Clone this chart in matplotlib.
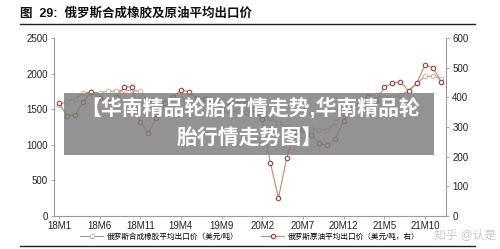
import matplotlib.pyplot as plt
from matplotlib.patches import Rectangle
from matplotlib.lines import Line2D

plt.rcParams['font.family'] = ['Liberation Sans', 'Noto Sans CJK SC', 'DejaVu Sans']

# monthly, 18M1 .. 21M12
months = list(range(48))
tick_pos = [0, 5, 10, 15, 20, 25, 30, 35, 40, 45]
tick_labels = ["18M1", "18M6", "18M11", "19M4", "19M9", "20M2", "20M7", "20M12", "21M5", "21M10"]

# synthetic rubber export price, USD/t (left axis)
rubber = [1560, 1610, 1650, 1726, 1740, 1730, 1754, 1754, 1764, 1764, 1750, 1624,
          1560, 1600, 1660, 1650, 1600, 1640, 1650, 1520, 1480, 1450, 1480, 1460,
          1450, 1420, 1380, 1300, 1250, 1210, 1200, 1220, 1214, 1214, 1320, 1438,
          1550, 1600, 1680, 1700, 1670, 1670, 1700, 1760, 1862, 1960, 1965, 1930]

# crude oil export price, USD/t (right axis)
oil = [382, 337, 340, 385, 419, 397, 385, 400, 434, 436, 318, 279,
       330, 380, 400, 425, 419, 397, 395, 380, 370, 375, 390, 380,
       360, 326, 180, 60, 194, 284, 292, 273, 245, 238, 260, 321,
       363, 378, 400, 388, 434, 447, 453, 422, 447, 509, 500, 453]

rubber_color = "#a89282"
rubber_edge = "#d2b8a0"
oil_color = "#c88a58"
oil_edge = "#a33a3a"
axis_color = "#9a9a9a"

fig = plt.figure(figsize=(5, 2.49), dpi=100)
ax1 = fig.add_axes([0.108, 0.133, 0.784, 0.714])
ax2 = ax1.twinx()

ax1.plot(months, rubber, color=rubber_color, lw=0.8, marker="o", ms=3.2,
         mfc="white", mec=rubber_edge, mew=0.8)
ax2.plot(months, oil, color=oil_color, lw=0.8, marker="o", ms=3.2,
         mfc="white", mec=oil_edge, mew=0.8)

ax1.set_xlim(-0.6, 47.6)
ax1.set_ylim(0, 2500)
ax2.set_ylim(0, 600)
ax1.set_yticks([0, 500, 1000, 1500, 2000, 2500])
ax2.set_yticks([0, 100, 200, 300, 400, 500, 600])
ax1.set_xticks(tick_pos)
ax1.set_xticklabels(tick_labels)

for ax in (ax1, ax2):
    ax.spines["top"].set_visible(False)
    for s in ("left", "right", "bottom"):
        ax.spines[s].set_color(axis_color)
        ax.spines[s].set_linewidth(0.8)
    ax.tick_params(labelsize=7, colors="#222222", length=2.5, width=0.6, pad=2)
    ax.tick_params(axis="both", color=axis_color)
ax1.tick_params(axis="x", pad=1)
ax1.spines["right"].set_visible(False)
ax2.spines["left"].set_visible(False)
ax2.spines["bottom"].set_visible(False)

# title and rules
fig.text(0.04, 0.945, "图  29:  俄罗斯合成橡胶及原油平均出口价", fontsize=9,
         fontweight="bold", color="#111111", va="center")
fig.add_artist(Line2D([0.04, 0.95], [0.902, 0.902], color="#222222", lw=1.0))
fig.add_artist(Line2D([0.04, 0.95], [0.012, 0.012], color="#222222", lw=1.0))

# legend
h1 = Line2D([], [], color=rubber_color, lw=0.8, marker="o", ms=3.2,
            mfc="white", mec=rubber_edge, mew=0.8)
h2 = Line2D([], [], color=oil_color, lw=0.8, marker="o", ms=3.2,
            mfc="white", mec=oil_edge, mew=0.8)
fig.legend([h1, h2], ["俄罗斯合成橡胶平均出口价（美元/吨）", "俄罗斯原油平均出口价（美元/吨，右）"],
           loc="center", bbox_to_anchor=(0.5, 0.05), ncol=2, frameon=False,
           fontsize=5.5, handlelength=3, columnspacing=3, handletextpad=0.5,
           borderpad=0.1)

# overlay banner
fig.add_artist(Rectangle((0.128, 0.378), 0.74, 0.249, transform=fig.transFigure,
                         facecolor="#7c7c7c", alpha=0.82, edgecolor="none", zorder=5))
fig.text(0.5, 0.565, "【华南精品轮胎行情走势,华南精品轮", fontsize=15, fontweight="bold",
         color="white", ha="center", va="center", zorder=6)
fig.text(0.5, 0.448, "胎行情走势图】", fontsize=15, fontweight="bold",
         color="white", ha="center", va="center", zorder=6)

# watermark
fig.text(0.93, 0.055, "知乎 @认是", fontsize=8.5, color="#c8c8c8", ha="center",
         va="center", zorder=6)

fig.savefig("out.png", dpi=100)
